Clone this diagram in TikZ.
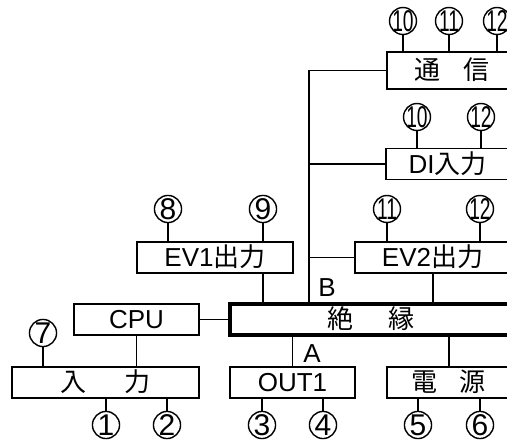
\documentclass[tikz,border=0pt]{standalone}
\usepackage{fontspec}
\usepackage{graphicx}
\setmainfont{Liberation Sans}
\newfontfamily\jp{Noto Sans CJK JP}
\usetikzlibrary{positioning}
\newcommand{\unitfont}{\fontsize{26pt}{28pt}\selectfont}
\newcommand{\termfont}{\fontsize{30pt}{32pt}\selectfont}
\newcommand{\dd}[1]{\makebox[0pt]{\scalebox{.64}[1]{#1}}}
\tikzset{
 unit/.style={draw,line width=1.6pt,minimum height=31pt,inner sep=0pt,font=\unitfont,
   text height=18.6pt,text depth=0pt},
 isobox/.style={unit,line width=3.2pt},
 tag/.style={inner sep=0pt,font=\unitfont,text height=18.6pt,text depth=0pt},
 term/.style={circle,draw,line width=1.4pt,minimum size=27pt,inner sep=0pt,font=\termfont,
   text height=21.5pt,text depth=0pt}
}

\begin{document}
\begin{tikzpicture}[x=1pt,y=-1pt,line width=1.6pt]
 \useasboundingbox (0,0) rectangle (507,441);
 \clip (0,0) rectangle (507,441);
 \node[unit,minimum width=153pt,minimum height=37pt] (tx) at (463.5,70.5) {};
 \node[tag] (txl) at (452,70.5) {\jp 通\hspace{24pt}信};
 \node[unit,minimum width=154pt] (di) at (463,164) {};
 \node[tag] (dil) at (447.5,164) {DI{\jp 入力}};
 \node[unit,minimum width=185pt] (ev2) at (447.5,257.5) {};
 \node[tag] (ev2l) at (432.5,257.5) {EV2{\jp 出力}};
 \node[unit,minimum width=156pt] (ev1) at (215,257.5) {EV1{\jp 出力}};
 \node[unit,minimum width=125pt] (cpu) at (136.5,319.5) {CPU};
 \node[isobox,minimum width=310pt] (iso) at (385,319.5) {};
 \node[tag] (isol) at (371,319.5) {\jp 絶\hspace{36pt}縁};
 \node[unit,minimum width=187pt] (inp) at (105.5,382.5) {\jp 入\hspace{38pt}力};
 \node[unit,minimum width=125pt] (out1) at (292.5,382.5) {OUT1};
 \node[unit,minimum width=153pt] (pwr) at (463.5,382.5) {};
 \node[tag] (pwrl) at (448.5,382.5) {\jp 電\hspace{23pt}源};
 \foreach \nm/\x/\y/\t/\u in {tx10/403/21/\dd{10}/tx.north,tx11/449/21/\dd{11}/tx.north,
   tx12/497/21/\dd{12}/tx.north,di10/417/117/\dd{10}/di.north,di12/481/117/\dd{12}/di.north,
   ev211/387/209/\dd{11}/ev2.north,ev212/480/209/\dd{12}/ev2.north,
   ev18/168/209/8/ev1.north,ev19/263/209/9/ev1.north,in7/43/333/7/inp.north,
   in1/106/425/1/inp.south,in2/167/425/2/inp.south,o3/262/425/3/out1.south,
   o4/323/425/4/out1.south,p5/418/425/5/pwr.south,p6/480/425/6/pwr.south}
  {\node[term] (\nm) at (\x,\y) {\t}; \draw (\nm) -- (\nm |- \u);}
 \coordinate (bus) at (309,70.5);
 \coordinate (ev1j) at (263,0); \coordinate (ev2j) at (433,0);
 \coordinate (pwrj) at (449,0);
 \draw (tx.west) -- (bus) -- (bus |- iso.north);
 \draw (di.west) -- (di.west -| bus);
 \draw (ev2.west) -- (ev2.west -| bus);
 \draw (ev1.south -| ev1j) -- (iso.north -| ev1j);
 \draw (ev2.south -| ev2j) -- (iso.north -| ev2j);
 \draw (iso.south -| pwrj) -- (pwr.north -| pwrj);
 \draw (iso.south -| out1.north) -- (out1.north);
 \draw (cpu.east) -- (iso.west);
 \draw (cpu.south) -- (inp.north -| cpu.south);
 \node[tag] (pA) at (312,353) {A};
 \node[tag] (pB) at (327,287) {B};
\end{tikzpicture}
\end{document}
